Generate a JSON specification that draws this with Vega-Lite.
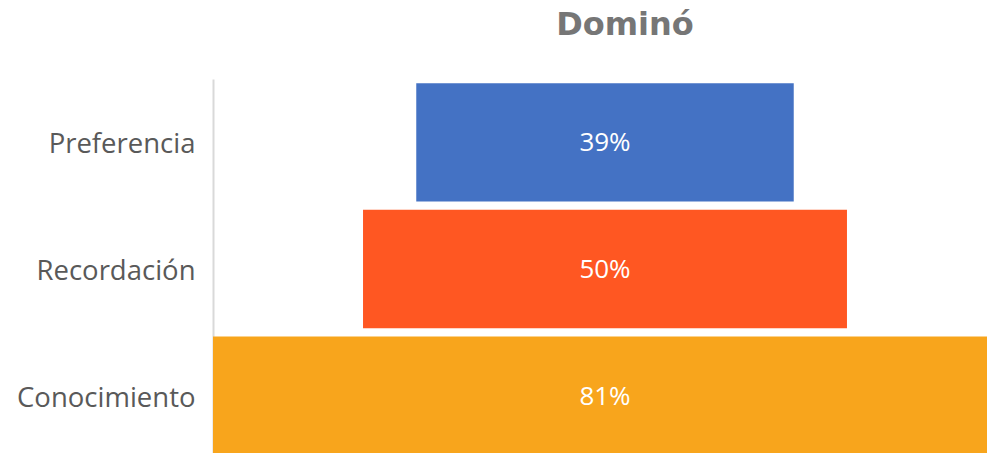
{
  "$schema": "https://vega.github.io/schema/vega-lite/v6.json",
  "autosize": {"type": "none"},
  "width": 784,
  "height": 380,
  "padding": {"left": 213, "top": 79, "right": 0, "bottom": 0},
  "background": "white",
  "title": {
    "text": "Dominó",
    "font": "DejaVu Sans",
    "fontSize": 32,
    "fontWeight": "bold",
    "color": "#767676",
    "anchor": "middle",
    "dx": 20,
    "offset": 37
  },
  "data": {
    "values": [
      {"etapa": "Preferencia", "valor": 39, "label": "39%"},
      {"etapa": "Recordación", "valor": 50, "label": "50%"},
      {"etapa": "Conocimiento", "valor": 81, "label": "81%"}
    ]
  },
  "encoding": {
    "y": {
      "field": "etapa",
      "type": "nominal",
      "sort": ["Preferencia", "Recordación", "Conocimiento"],
      "scale": {"paddingInner": 0.066, "paddingOuter": 0.033},
      "axis": {
        "title": null,
        "ticks": false,
        "labelPadding": 18,
        "labelOffset": 3,
        "labelFont": "Open Sans",
        "labelFontSize": 27.5,
        "labelColor": "#595959",
        "domainColor": "#d9d9d9",
        "domainWidth": 2,
        "grid": false
      }
    }
  },
  "layer": [
    {
      "mark": {"type": "bar"},
      "encoding": {
        "x": {
          "field": "valor",
          "type": "quantitative",
          "stack": "center",
          "scale": {"domain": [0, 81], "nice": false, "zero": true},
          "axis": null
        },
        "color": {
          "field": "etapa",
          "type": "nominal",
          "scale": {
            "domain": ["Preferencia", "Recordación", "Conocimiento"],
            "range": ["#4472C4", "#FF5722", "#F8A51C"]
          },
          "legend": null
        }
      }
    },
    {
      "mark": {"type": "text", "font": "Open Sans", "fontSize": 26, "color": "white", "align": "center", "baseline": "middle", "dy": 1},
      "encoding": {
        "x": {"datum": 40.5, "type": "quantitative"},
        "text": {"field": "label"}
      }
    }
  ],
  "config": {"view": {"stroke": null}}
}
